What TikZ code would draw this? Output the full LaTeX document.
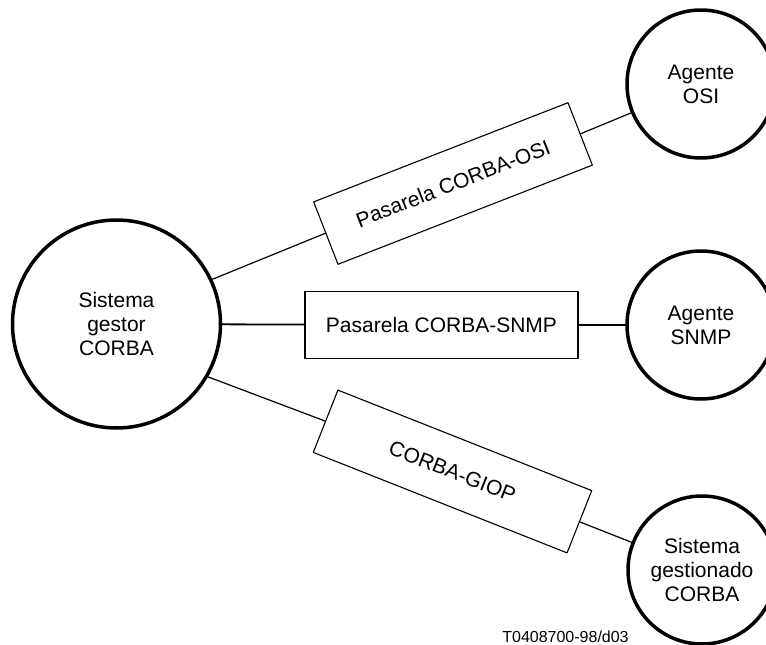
\documentclass[tikz,border=0pt]{standalone}
\usepackage{fontspec}
\setmainfont{Liberation Sans}
\begin{document}
\begin{tikzpicture}[x=1pt,y=-1pt,line cap=round,line join=round,
  every node/.style={inner sep=1pt,align=center,font=\fontsize{21}{24}\selectfont},
  sistema/.style={draw,circle,line width=3.5pt},
  pasarela/.style={draw,rectangle,line width=1.1pt,minimum width=273pt,minimum height=67pt}]
  \useasboundingbox (0,0) rectangle (766,645);
  \def\dd{148pt}
  % gestor
  \node[sistema,minimum size=208pt] (gestor) at (116.5,324) {Sistema\\gestor\\CORBA};
  % agentes
  \node[sistema,minimum size=\dd] (osi) at (701,84) {Agente\\OSI};
  \node[sistema,minimum size=\dd] (snmp) at (701,325) {Agente\\SNMP};
  \node[sistema,minimum size=\dd] (gestionado) at (702,570) {Sistema\\gestionado\\CORBA};
  % pasarelas
  \node[pasarela,rotate=21.3] (posi) at (453,183.5) {Pasarela CORBA-OSI};
  \node[pasarela] (psnmp) at (441.5,325) {Pasarela CORBA-SNMP};
  \node[pasarela,rotate=-21.6] (giop) at (452.5,471.5) {CORBA-GIOP};
  % enlaces
  \draw[line width=1.2pt] (gestor.25) -- (posi.west);
  \draw[line width=1.2pt] (posi.east) -- (osi);
  \draw[line width=1.8pt] (gestor) -- (psnmp);
  \draw[line width=1.8pt] (psnmp) -- (snmp);
  \draw[line width=1.2pt] (gestor.-30) -- (giop.west);
  \draw[line width=1.2pt] (giop.east) -- (gestionado);
  \node[font=\fontsize{16}{18}\selectfont] (ref) at (565.5,637) {T0408700-98/d03};
\end{tikzpicture}
\end{document}
